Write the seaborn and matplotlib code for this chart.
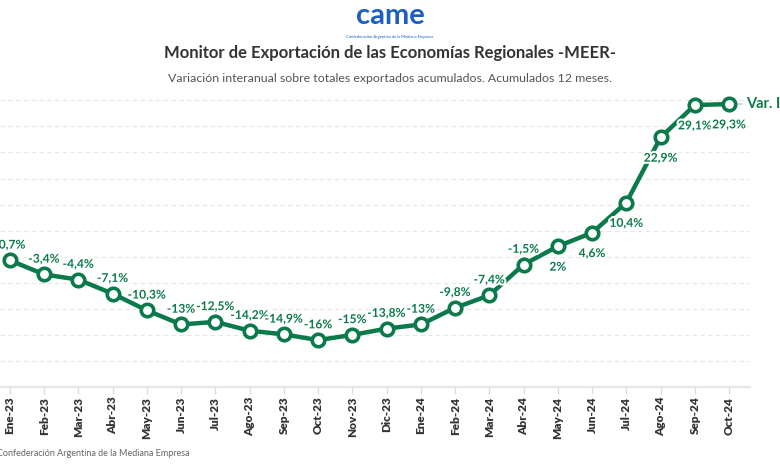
import matplotlib
matplotlib.use("Agg")
import matplotlib.pyplot as plt
import matplotlib.patheffects as pe
import seaborn as sns
import pandas as pd

# Data
meses = ["Ene-23", "Feb-23", "Mar-23", "Abr-23", "May-23", "Jun-23", "Jul-23",
         "Ago-23", "Sep-23", "Oct-23", "Nov-23", "Dic-23", "Ene-24", "Feb-24",
         "Mar-24", "Abr-24", "May-24", "Jun-24", "Jul-24", "Ago-24", "Sep-24",
         "Oct-24"]
var_ia = [-0.7, -3.4, -4.4, -7.1, -10.3, -13, -12.5, -14.2, -14.9, -16, -15,
          -13.8, -13, -9.8, -7.4, -1.5, 2, 4.6, 10.4, 22.9, 29.1, 29.3]
etiquetas = ["-0,7%", "-3,4%", "-4,4%", "-7,1%", "-10,3%", "-13%", "-12,5%",
             "-14,2%", "-14,9%", "-16%", "-15%", "-13,8%", "-13%", "-9,8%",
             "-7,4%", "-1,5%", "2%", "4,6%", "10,4%", "22,9%", "29,1%", "29,3%"]

df = pd.DataFrame({"pos": range(len(meses)), "mes": meses, "var": var_ia})

sns.set_theme(style="white")
plt.rcParams["font.family"] = ["Lato", "DejaVu Sans"]

verde = "#0b7a4b"
fig = plt.figure(figsize=(7.8, 4.7), dpi=100)
ax = fig.add_axes([0.0, 0.1766, 750 / 780, 0.632])

sns.lineplot(data=df, x="pos", y="var", ax=ax, color=verde, linewidth=3.2,
             marker="o", markersize=9, markerfacecolor="white",
             markeredgecolor=verde, markeredgewidth=2.6, clip_on=False, zorder=3)

ax.set_xlim(-0.29, 21.61)
ax.set_ylim(-25, 32)
ax.set_yticks(range(-20, 31, 5))
ax.yaxis.grid(True, color="#e6e6e6", linestyle=(0, (4, 3)), linewidth=0.8)
ax.set_yticklabels([])
ax.tick_params(axis="y", length=0)
for s in ["top", "right", "left"]:
    ax.spines[s].set_visible(False)
ax.spines["bottom"].set_color("#e6e6e6")
ax.spines["bottom"].set_linewidth(1.5)

ax.set_xticks(range(len(meses)))
ax.set_xticklabels(meses, rotation=90, fontsize=8.5, fontweight="heavy", color="#333333")
ax.tick_params(axis="x", length=5, color="#dddddd", width=1, pad=2, bottom=True)
ax.set_xlabel("")
ax.set_ylabel("")

halo = [pe.withStroke(linewidth=3, foreground="white")]
for i, (v, t) in enumerate(zip(var_ia, etiquetas)):
    off = -15 if v >= 0 else 11
    ax.annotate(t, (i, v), xytext=(0, off), textcoords="offset points",
                ha="center", va="center", fontsize=8.7, fontweight="bold",
                color=verde, path_effects=halo, annotation_clip=False, zorder=4)

# end label
ax.annotate("", xy=(21.45, var_ia[-1]), xytext=(21.2, var_ia[-1]),
            arrowprops=dict(arrowstyle="-", color="#cccccc", lw=1.2),
            annotation_clip=False)
ax.text(21.5, var_ia[-1], "Var. IA", ha="left", va="center", fontsize=10.5,
        fontweight="bold", color=verde, clip_on=False)

# header
fig.text(0.5, 0.965, "came", ha="center", va="center", fontsize=21,
         fontweight="bold", color="#1d5fbf")
fig.text(0.5, 0.922, "Confederación Argentina de la Mediana Empresa", ha="center",
         va="center", fontsize=3, color="#1d5fbf")
fig.text(0.5, 0.888, "Monitor de Exportación de las Economías Regionales -MEER-",
         ha="center", va="center", fontsize=12, fontweight="bold", color="#333333")
fig.text(0.5, 0.834, "Variación interanual sobre totales exportados acumulados. Acumulados 12 meses.",
         ha="center", va="center", fontsize=8.9, color="#555555")
fig.text(-0.004, 0.036, "Confederación Argentina de la Mediana Empresa", ha="left",
         va="center", fontsize=6.5, color="#666666")

fig.savefig("out.png", dpi=100)
